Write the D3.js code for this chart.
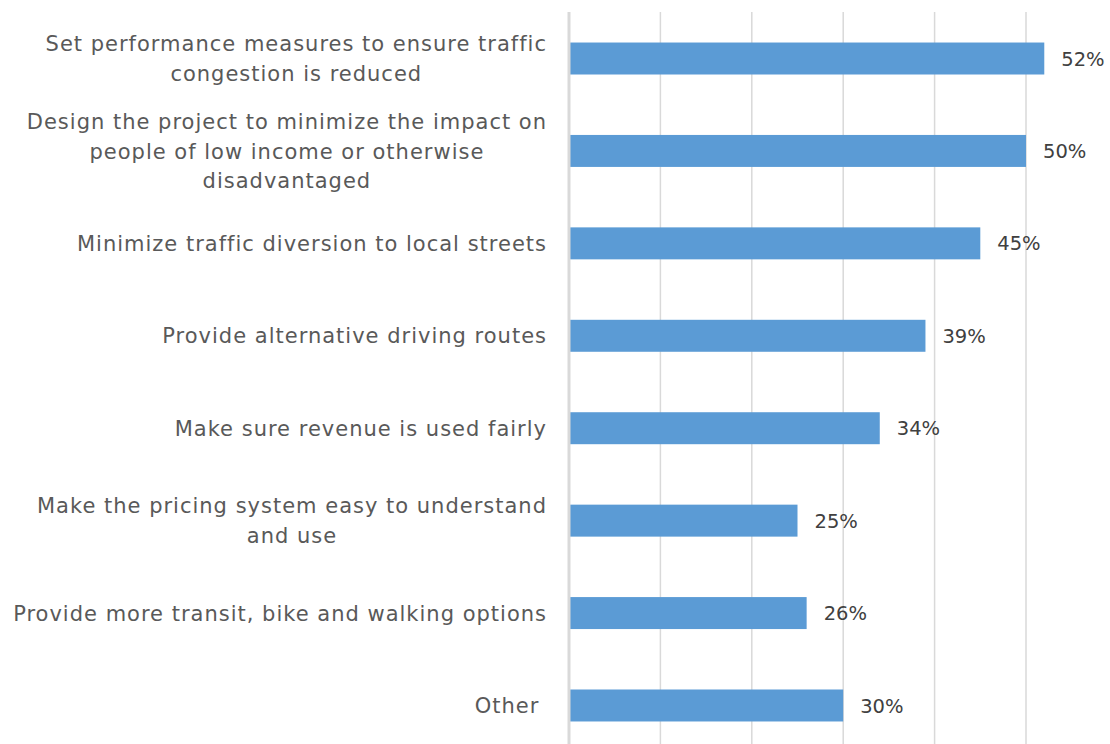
<!DOCTYPE html>
<html>
<head>
<meta charset="utf-8">
<script src="https://cdn.jsdelivr.net/npm/d3@7"></script>
<style>
  html, body { margin: 0; padding: 0; background: #fff; }
  svg { display: block; }
</style>
</head>
<body>
<svg id="chart" width="1110" height="744"></svg>
<script>
// ---- data ----
const categories = [
  ["Set performance measures to ensure traffic", "congestion is reduced"],
  ["Design the project to minimize the impact on", "people of low income or otherwise", "disadvantaged"],
  ["Minimize traffic diversion to local streets"],
  ["Provide alternative driving routes"],
  ["Make sure revenue is used fairly"],
  ["Make the pricing system easy to understand", "and use"],
  ["Provide more transit, bike and walking options"],
  ["Other\u00a0"]
];
const values = [52, 50, 45, 39, 34, 25, 26, 30];
const gridTicks = [0, 10, 20, 30, 40, 50];

// ---- layout ----
const svg = d3.select("#chart");
const x0 = 569, xMax = 1026;
const x = d3.scaleLinear().domain([0, 50]).range([x0, xMax]);
const keys = categories.map((c, i) => i);
const y = d3.scaleBand().domain(keys).range([12.3, 751.7]).paddingInner(0.654).paddingOuter(0.327);

// gridlines
svg.append("g")
  .selectAll("line")
  .data(gridTicks.slice(1))
  .join("line")
  .attr("x1", d => x(d)).attr("x2", d => x(d))
  .attr("y1", 12).attr("y2", 744)
  .attr("stroke", "#d9d9d9").attr("stroke-width", 1.5);

// bars
svg.append("g")
  .selectAll("rect")
  .data(values)
  .join("rect")
  .attr("x", x(0) + 1)
  .attr("y", (d, i) => y(i))
  .attr("width", d => x(d) - x(0) - 1)
  .attr("height", y.bandwidth())
  .attr("fill", "#5b9bd5");

// axis line
svg.append("line")
  .attr("x1", x(0)).attr("x2", x(0))
  .attr("y1", 12).attr("y2", 744)
  .attr("stroke", "#d9d9d9").attr("stroke-width", 3);

// value labels
svg.append("g")
  .selectAll("text")
  .data(values)
  .join("text")
  .attr("x", d => x(d) + 17)
  .attr("y", (d, i) => y(i) + y.bandwidth() / 2)
  .attr("dy", "0.36em")
  .attr("font-family", "DejaVu Sans, sans-serif")
  .attr("font-size", 19.5)
  .attr("fill", "#404040")
  .text(d => d + "%");

// category labels (block right-aligned, lines centred within block)
const lineH = 29.5;
const labelRight = 547;
const lab = svg.append("g")
  .selectAll("text")
  .data(categories)
  .join("text")
  .attr("text-anchor", "middle")
  .attr("font-family", "DejaVu Sans, sans-serif")
  .attr("font-size", 21)
  .attr("letter-spacing", 1)
  .attr("fill", "#595959")
  .attr("transform", (d, i) => `translate(${labelRight}, ${y(i) + y.bandwidth() / 2})`)
  .style("white-space", "pre");
const tspans = lab.selectAll("tspan")
  .data(d => d.map((t, j) => ({ t, j, n: d.length })))
  .join("tspan")
  .attr("y", d => (d.j - (d.n - 1) / 2) * lineH)
  .attr("dy", "0.36em")
  .text(d => d.t);
lab.each(function () {
  const ts = d3.select(this).selectAll("tspan");
  let maxW = 0;
  ts.each(function () { maxW = Math.max(maxW, this.getComputedTextLength()); });
  ts.attr("x", -maxW / 2);
});
</script>
</body>
</html>
